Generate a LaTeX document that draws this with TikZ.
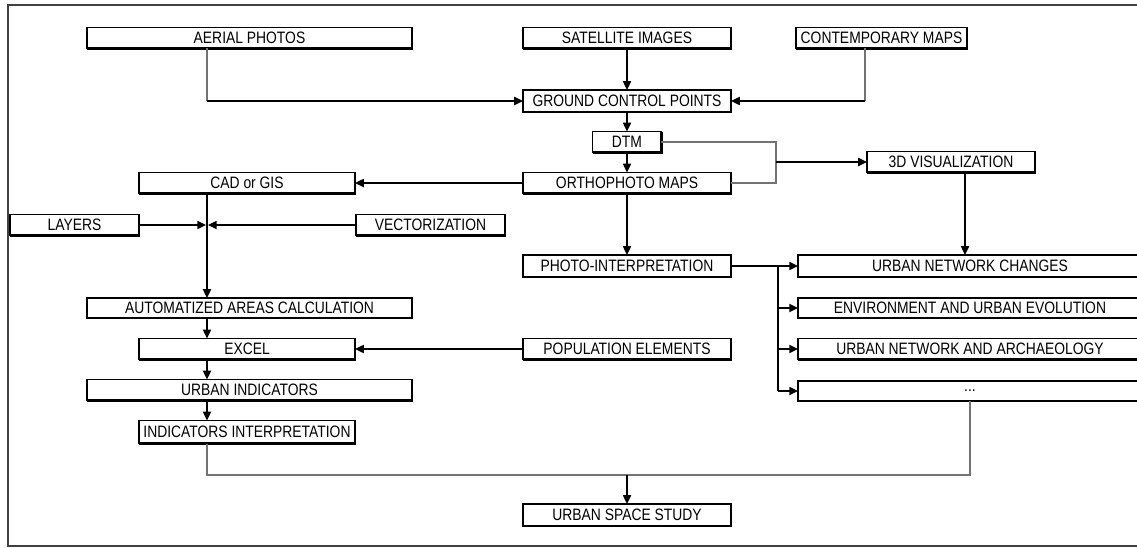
\documentclass[tikz,border=0pt]{standalone}
\usepackage{fontspec}
\setmainfont{Liberation Sans}[FakeStretch=0.84]
\usepackage{tikz}
\usetikzlibrary{arrows.meta,calc}

\begin{document}
\begin{tikzpicture}[
  x=0.02cm, y=-0.02cm,
  every node/.style={font=\fontsize{9.4}{11}\selectfont},
  box/.style={draw, line width=0.95pt, inner sep=0pt, outer sep=0pt, minimum height=0.42cm},
  link/.style={->, line width=1.1pt},
  feed/.style={line width=0.65pt, draw=black!55},
  >={Triangle[length=5pt,width=4.5pt]}
]
  \path[use as bounding box, clip] (0,0) rectangle (1137,548);
  \draw[line width=1.3pt, draw=black!75] (8,5) rectangle (1160,546);

  % sources
  \node[box, minimum width=6.5cm] (aerial) at (249.5,38) {AERIAL PHOTOS};
  \node[box, minimum width=4.16cm] (satellite) at (627,38) {SATELLITE IMAGES};
  \node[box, minimum width=3.42cm] (contemp) at (881.5,38) {CONTEMPORARY MAPS};

  % photogrammetric chain
  \node[box, minimum width=4.16cm, minimum height=0.44cm] (gcp) at (627,101) {GROUND CONTROL POINTS};
  \node[box, minimum width=1.38cm] (dtm) at (627,142) {DTM};
  \node[box, minimum width=4.16cm] (ortho) at (627,183) {ORTHOPHOTO MAPS};
  \node[box, minimum width=3.36cm] (vis) at (951,162) {3D VISUALIZATION};
  \node[box, minimum width=4.16cm, minimum height=0.44cm] (photo) at (627,266) {PHOTO-INTERPRETATION};
  \node[box, minimum width=4.16cm] (population) at (627,349) {POPULATION ELEMENTS};

  % left column
  \node[box, minimum width=4.32cm] (cad) at (247,183) {CAD or GIS};
  \node[box, minimum width=2.58cm] (layers) at (74.5,225) {LAYERS};
  \node[box, minimum width=2.98cm] (vector) at (430.5,225) {VECTORIZATION};
  \node[box, minimum width=6.5cm, minimum height=0.40cm] (areas) at (249.5,308) {AUTOMATIZED AREAS CALCULATION};
  \node[box, minimum width=4.32cm] (excel) at (247,349) {EXCEL};
  \node[box, minimum width=6.5cm] (indicators) at (249.5,390) {URBAN INDICATORS};
  \node[box, minimum width=4.32cm, minimum height=0.46cm] (interp) at (247,432) {INDICATORS INTERPRETATION};

  % right column
  \node[box, minimum width=6.88cm, minimum height=0.44cm] (changes) at (970,266) {URBAN NETWORK CHANGES};
  \node[box, minimum width=6.88cm, minimum height=0.40cm] (evolution) at (970,308) {ENVIRONMENT AND URBAN EVOLUTION};
  \node[box, minimum width=6.88cm] (archaeo) at (970,349) {URBAN NETWORK AND ARCHAEOLOGY};
  \node[box, minimum width=6.88cm, minimum height=0.40cm] (etc) at (970,391) {...};

  \node[box, minimum width=4.16cm, minimum height=0.44cm] (study) at (627,515) {URBAN SPACE STUDY};

  % heavier bottom and right edges
  \foreach \n in {aerial,satellite,contemp,gcp,dtm,ortho,vis,photo,population,cad,layers,vector,
                  areas,excel,indicators,interp,changes,evolution,archaeo,etc,study}
    \draw[line width=1.6pt] (\n.south west) -| (\n.north east);

  \coordinate (spine) at (207,0);
  \coordinate (mapdrop) at (865,0);
  \coordinate (junction) at (776,0);
  \coordinate (visdrop) at (965,0);
  \coordinate (branch) at (778,0);
  \coordinate (merge) at (0,475);

  \draw[feed] (aerial.south -| spine) -- (spine |- gcp.west);
  \draw[link] (spine |- gcp.west) -- (gcp.west);
  \draw[feed] (contemp.south -| mapdrop) -- (mapdrop |- gcp.east);
  \draw[link] (mapdrop |- gcp.east) -- (gcp.east);
  \draw[link] (satellite) -- (gcp);
  \draw[link] (gcp) -- (dtm);
  \draw[link] (dtm) -- (ortho);

  \draw[feed] (dtm.east) -- (junction |- dtm.east) -- (junction |- ortho.east) -- (ortho.east);
  \draw[link] (junction |- vis.west) -- (vis.west);
  \draw[link] (vis.south -| visdrop) -- (visdrop |- changes.north);

  \draw[link] (ortho) -- (cad);
  \draw[link] (ortho) -- (photo);
  \draw[link] (cad.south -| spine) -- (spine |- areas.north);
  \draw[link, shorten >=0.5pt] (layers) -- (layers -| spine);
  \draw[link, shorten >=0.5pt] (vector) -- (vector -| spine);
  \draw[link] (areas.south -| spine) -- (spine |- excel.north);
  \draw[link] (population) -- (excel);
  \draw[link] (excel.south -| spine) -- (spine |- indicators.north);
  \draw[link] (indicators.south -| spine) -- (spine |- interp.north);

  \draw[link] (photo) -- (changes);
  \draw[line width=0.65pt] (branch |- photo.east) -- (branch |- etc.west);
  \foreach \n in {evolution,archaeo,etc}
    \draw[link] (branch |- \n.west) -- (\n.west);

  \draw[feed] (interp.south -| spine) |- (etc.south |- merge) -- (etc.south);
  \draw[link] (study.north |- merge) -- (study.north);
\end{tikzpicture}
\end{document}
